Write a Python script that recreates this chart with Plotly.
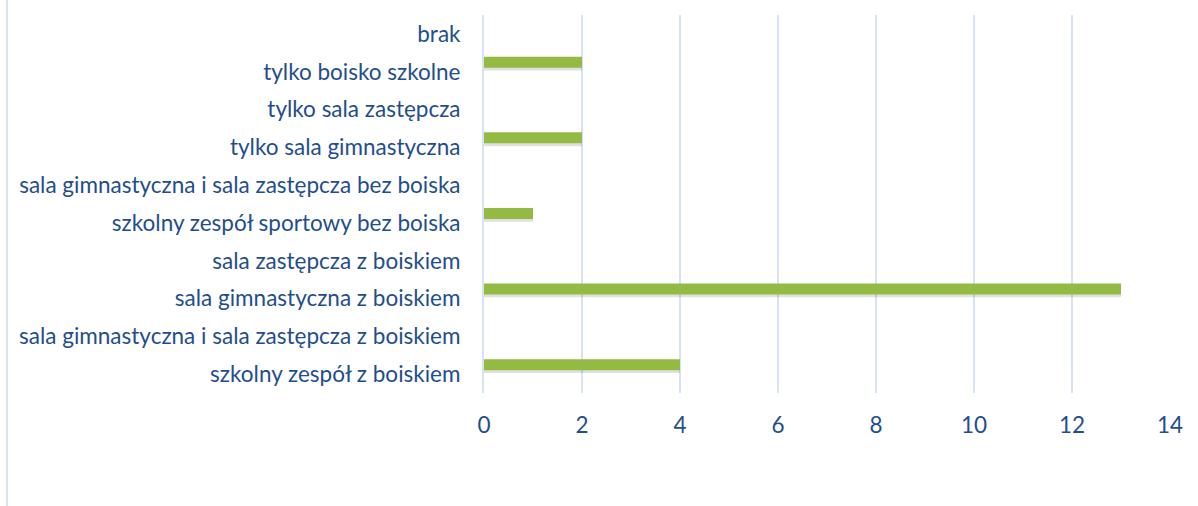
import plotly.graph_objects as go

categories = [
    "szkolny zespół z boiskiem",
    "sala gimnastyczna i sala zastępcza z boiskiem",
    "sala gimnastyczna z boiskiem",
    "sala zastępcza z boiskiem",
    "szkolny zespół sportowy bez boiska",
    "sala gimnastyczna i sala zastępcza bez boiska",
    "tylko sala gimnastyczna",
    "tylko sala zastępcza",
    "tylko boisko szkolne",
    "brak",
]
values = [4, 0, 13, 0, 1, 0, 2, 0, 2, 0]
x_ticks = [0, 2, 4, 6, 8, 10, 12, 14]

TEXT = "#1F4E8C"
GRID = "#D6E3F4"
FONT = "Lato"
FS = 22.5

fig = go.Figure()
# soft shadow under bars
fig.add_trace(go.Bar(
    y=categories, x=values, orientation="h",
    offset=0.03, width=0.29,
    marker=dict(color="rgba(0,0,0,0.12)", line=dict(width=0)),
    hoverinfo="skip", showlegend=False,
))
fig.add_trace(go.Bar(
    y=categories, x=values, orientation="h",
    offset=0.105, width=0.29,
    marker=dict(color="#93BB43", line=dict(width=0)),
    showlegend=False,
))

fig.update_layout(
    width=1198, height=506,
    margin=dict(l=484, r=28, t=15, b=113),
    paper_bgcolor="white", plot_bgcolor="white",
    barmode="overlay",
    font=dict(family=FONT, size=FS, color=TEXT),
    xaxis=dict(
        range=[0, 14], tickvals=x_ticks, ticktext=[str(v) for v in x_ticks],
        showgrid=True, gridcolor=GRID, gridwidth=2,
        zeroline=False, showline=False, ticks="",
        ticklabelstandoff=16,
        tickfont=dict(family=FONT, size=FS, color=TEXT),
    ),
    yaxis=dict(
        type="category", categoryorder="array", categoryarray=categories,
        range=[-0.5, 9.5],
        showgrid=False, zeroline=False,
        showline=True, linecolor=GRID, linewidth=2,
        ticks="", ticklabelstandoff=17,
        tickfont=dict(family=FONT, size=FS, color=TEXT),
    ),
    shapes=[dict(
        type="line", xref="paper", yref="paper",
        x0=(7 - 484) / 686, x1=(7 - 484) / 686,
        y0=-113 / 378, y1=(378 + 15) / 378,
        line=dict(color=GRID, width=2),
    )],
)

fig.write_html("out.html", config={"displayModeBar": False},
               post_script="document.body.style.margin='0';")
